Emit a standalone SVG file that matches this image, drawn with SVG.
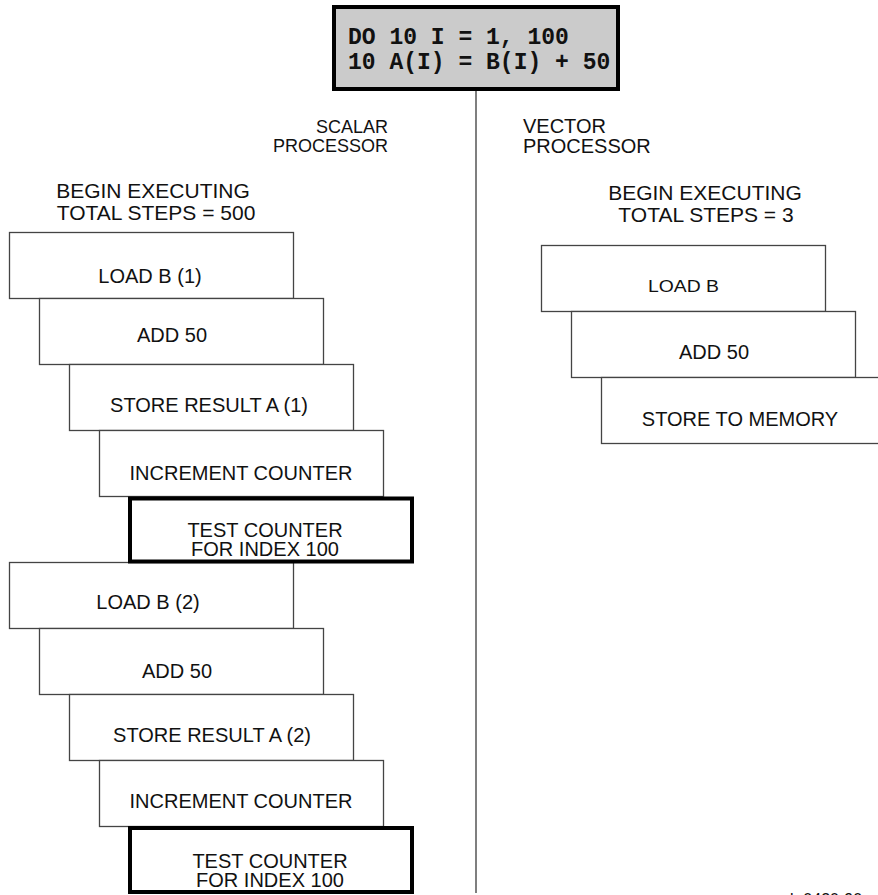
<svg xmlns="http://www.w3.org/2000/svg" width="878" height="895" viewBox="0 0 878 895">
<style>
text{font-family:"Liberation Sans",Arial,sans-serif;fill:#111;}
.t{font-size:20px;text-anchor:middle;}
.h{font-size:21px;text-anchor:middle;}
.lab{font-size:20px;}
.slab{font-size:18px;text-anchor:end;}
.box{fill:#fff;stroke:#444;stroke-width:1.3;}
.thick{fill:#fff;stroke:#000;stroke-width:4;}
.code{font-family:"Liberation Mono","Courier New",monospace;font-weight:bold;font-size:23px;fill:#111;}
</style>
<rect width="878" height="895" fill="#fff"/>
<g id="connectors">
<line x1="476" y1="91" x2="476" y2="893" stroke="#555" stroke-width="1.5"/>
</g>
<g id="code">
<rect x="334" y="7" width="284" height="82" fill="#cbcbcb" stroke="#000" stroke-width="4"/>
<text class="code" x="348" y="44">DO 10 I = 1, 100</text>
<text class="code" x="348" y="69">10 A(I) = B(I) + 50</text>
</g>
<g id="scalar-label">
<text class="slab" x="388" y="133">SCALAR</text>
<text class="slab" x="388" y="152">PROCESSOR</text>
</g>
<g id="vector-label">
<text class="lab" x="523" y="133">VECTOR</text>
<text class="lab" x="523" y="153">PROCESSOR</text>
</g>
<g id="scalar-header">
<text class="h" x="153" y="198">BEGIN EXECUTING</text>
<text class="h" x="156" y="220">TOTAL STEPS = 500</text>
</g>
<g id="vector-header">
<text class="h" x="705" y="200">BEGIN EXECUTING</text>
<text class="h" x="706" y="222">TOTAL STEPS = 3</text>
</g>
<g id="s1"><rect class="box" x="9.5" y="232.5" width="284" height="66"/><text class="t" x="150" y="283">LOAD B (1)</text></g>
<g id="s2"><rect class="box" x="39.5" y="298.5" width="284" height="66"/><text class="t" x="172" y="342">ADD 50</text></g>
<g id="s3"><rect class="box" x="69.5" y="364.5" width="284" height="66"/><text class="t" x="209" y="412">STORE RESULT A (1)</text></g>
<g id="s4"><rect class="box" x="99.5" y="430.5" width="284" height="66"/><text class="t" x="241" y="480">INCREMENT COUNTER</text></g>
<g id="s6"><rect class="box" x="9.5" y="562.5" width="284" height="66"/><text class="t" x="148" y="609">LOAD B (2)</text></g>
<g id="s5"><rect class="thick" x="130" y="498.5" width="282" height="63"/><text class="t" x="265" y="537">TEST COUNTER</text><text class="t" x="265" y="556">FOR INDEX 100</text></g>
<g id="s7"><rect class="box" x="39.5" y="628.5" width="284" height="66"/><text class="t" x="177" y="678">ADD 50</text></g>
<g id="s8"><rect class="box" x="69.5" y="694.5" width="284" height="66"/><text class="t" x="212" y="742">STORE RESULT A (2)</text></g>
<g id="s9"><rect class="box" x="99.5" y="760.5" width="284" height="66"/><text class="t" x="241" y="808">INCREMENT COUNTER</text></g>
<g id="s10"><rect class="thick" x="130" y="828" width="282" height="64"/><text class="t" x="270" y="868">TEST COUNTER</text><text class="t" x="270" y="887">FOR INDEX 100</text></g>
<g id="v1"><rect class="box" x="541.5" y="245.5" width="284" height="66"/><text x="648" y="292" font-size="16" textLength="71" lengthAdjust="spacingAndGlyphs">LOAD B</text></g>
<g id="v2"><rect class="box" x="571.5" y="311.5" width="284" height="66"/><text class="t" x="714" y="359">ADD 50</text></g>
<g id="v3"><rect class="box" x="601.5" y="377.5" width="290" height="66"/><text class="t" x="740" y="426">STORE TO MEMORY</text></g>
<g id="figure-id">
<text x="790" y="905" font-size="16">k-0420-90</text>
</g>
</svg>
